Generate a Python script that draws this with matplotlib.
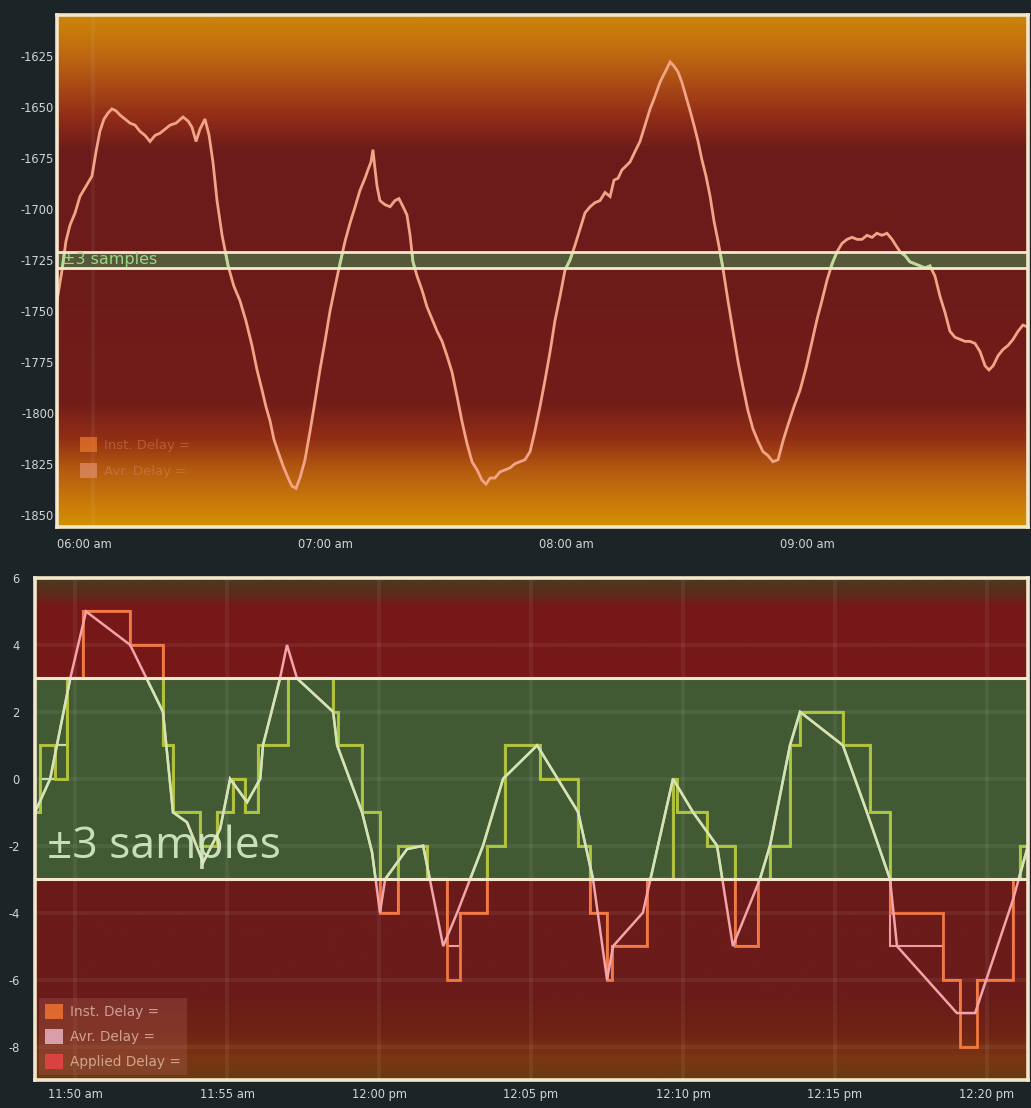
import numpy as np
import matplotlib
matplotlib.use("Agg")
import matplotlib.pyplot as plt
from matplotlib.colors import LinearSegmentedColormap
from matplotlib.patches import Rectangle, Patch
from matplotlib.transforms import blended_transform_factory

plt.rcParams["axes.unicode_minus"] = False
plt.rcParams["font.family"] = ["DejaVu Sans"]

# ---------------- upper panel: delay over the morning ----------------
trace_hours = [0.000, 0.021, 0.037, 0.054, 0.075, 0.095, 0.120, 0.145, 0.162, 0.178,
               0.195, 0.212, 0.228, 0.245, 0.261, 0.282, 0.303, 0.324, 0.344, 0.365,
               0.386, 0.407, 0.427, 0.448, 0.469, 0.494, 0.523, 0.544, 0.560, 0.577,
               0.593, 0.614, 0.631, 0.647, 0.664, 0.685, 0.710, 0.734, 0.759, 0.784,
               0.809, 0.830, 0.851, 0.867, 0.884, 0.900, 0.917, 0.938, 0.959, 0.975,
               0.992, 1.008, 1.029, 1.050, 1.071, 1.091, 1.112, 1.133, 1.154, 1.174,
               1.195, 1.216, 1.237, 1.257, 1.278, 1.290, 1.303, 1.311, 1.320, 1.328,
               1.340, 1.361, 1.382, 1.402, 1.419, 1.436, 1.452, 1.465, 1.477, 1.494,
               1.515, 1.535, 1.556, 1.577, 1.598, 1.618, 1.639, 1.660, 1.680, 1.701,
               1.722, 1.743, 1.763, 1.780, 1.797, 1.817, 1.838, 1.859, 1.880, 1.900,
               1.921, 1.942, 1.963, 1.983, 2.004, 2.025, 2.046, 2.066, 2.087, 2.108,
               2.129, 2.149, 2.170, 2.191, 2.212, 2.232, 2.253, 2.274, 2.295, 2.311,
               2.328, 2.344, 2.361, 2.378, 2.398, 2.419, 2.440, 2.461, 2.481, 2.502,
               2.523, 2.544, 2.560, 2.577, 2.593, 2.610, 2.627, 2.643, 2.660, 2.676,
               2.693, 2.710, 2.726, 2.743, 2.763, 2.784, 2.805, 2.826, 2.846, 2.867,
               2.888, 2.909, 2.929, 2.950, 2.971, 2.992, 3.012, 3.033, 3.058, 3.083,
               3.108, 3.133, 3.154, 3.174, 3.195, 3.216, 3.237, 3.257, 3.278, 3.299,
               3.320, 3.340, 3.361, 3.382, 3.402, 3.423, 3.444, 3.465, 3.481, 3.498,
               3.519, 3.539, 3.560, 3.581, 3.602, 3.622, 3.643, 3.664, 3.685, 3.705,
               3.726, 3.747, 3.768, 3.788, 3.809, 3.830, 3.851, 3.867, 3.884, 3.905,
               3.925, 3.946, 3.967, 3.988, 4.008, 4.029]
trace_delay = [-1745, -1730, -1716, -1708, -1702, -1694, -1689, -1684, -1672, -1662,
               -1656, -1653, -1651, -1652, -1654, -1656, -1658, -1659, -1662, -1664,
               -1667, -1664, -1663, -1661, -1659, -1658, -1655, -1657, -1660, -1667,
               -1661, -1656, -1664, -1677, -1696, -1713, -1728, -1738, -1745, -1755,
               -1767, -1779, -1789, -1797, -1804, -1813, -1819, -1826, -1832, -1836,
               -1837, -1832, -1823, -1809, -1794, -1779, -1765, -1750, -1738, -1727,
               -1716, -1707, -1699, -1691, -1685, -1681, -1677, -1671, -1681, -1689,
               -1696, -1698, -1699, -1696, -1695, -1699, -1703, -1713, -1726, -1733,
               -1740, -1748, -1754, -1760, -1765, -1772, -1780, -1792, -1804, -1815,
               -1824, -1828, -1833, -1835, -1832, -1832, -1829, -1828, -1827, -1825,
               -1824, -1823, -1819, -1809, -1797, -1784, -1770, -1755, -1743, -1730,
               -1725, -1718, -1710, -1702, -1699, -1697, -1696, -1692, -1694, -1686,
               -1685, -1681, -1679, -1677, -1672, -1667, -1659, -1651, -1645, -1638,
               -1633, -1628, -1630, -1633, -1638, -1645, -1652, -1659, -1667, -1676,
               -1684, -1694, -1706, -1716, -1729, -1745, -1760, -1775, -1787, -1799,
               -1808, -1814, -1819, -1821, -1824, -1823, -1814, -1806, -1797, -1789,
               -1778, -1765, -1754, -1745, -1735, -1727, -1721, -1717, -1715, -1714,
               -1715, -1715, -1713, -1714, -1712, -1713, -1712, -1715, -1718, -1721,
               -1723, -1726, -1727, -1728, -1729, -1728, -1733, -1743, -1751, -1760,
               -1763, -1764, -1765, -1765, -1766, -1770, -1777, -1779, -1777, -1772,
               -1769, -1767, -1764, -1760, -1757, -1758]
trace_ticks = [0, 1, 2, 3]
trace_ticklabels = ["06:00 am", "07:00 am", "08:00 am", "09:00 am"]
trace_yticks = [-1625, -1650, -1675, -1700, -1725, -1750, -1775, -1800, -1825, -1850]
trace_band = (-1729, -1721)

# ---------------- lower panel: zoom on 11:50 - 12:21 ----------------
zoom_ticks = [0, 5, 10, 15, 20, 25, 30]
zoom_ticklabels = ["11:50 am", "11:55 am", "12:00 pm", "12:05 pm",
                   "12:10 pm", "12:15 pm", "12:20 pm"]
zoom_yticks = [6, 4, 2, 0, -2, -4, -6, -8]
tolerance = 3

inst_minutes = [-1.32, -1.15, -0.66, -0.26, 0.26, 1.81, 2.89, 3.22, 4.11, 4.67,
                5.20, 5.59, 6.02, 7.01, 8.49, 8.65, 9.44, 10.03, 10.63, 11.58,
                12.24, 12.66, 13.55, 14.14, 15.30, 16.55, 16.94, 17.50, 17.66, 18.82,
                19.67, 19.80, 20.79, 21.71, 22.47, 22.86, 23.52, 23.85, 25.26, 26.15,
                26.81, 28.55, 29.11, 29.67, 30.86, 31.09, 31.35]
inst_delay = [-1, 1, 0, 3, 5, 4, 1, -1, -2, -1,
              0, -1, 1, 3, 2, 1, -1, -4, -2, -3,
              -6, -4, -2, 1, 0, -2, -4, -6, -5, -3,
              0, -1, -2, -5, -3, -2, 1, 2, 1, -1,
              -4, -6, -8, -6, -3, -2, -2]
applied_delay = [-1, 0, 1, 3, 5, 4, 1, -1, -2, -1,
                 0, -1, 1, 3, 2, 1, -1, -4, -2, -3,
                 -5, -4, -2, 1, 0, -2, -4, -6, -5, -3,
                 0, -1, -2, -5, -3, -2, 1, 2, 1, -1,
                 -5, -6, -7, -6, -3, -2, -2]
avr_minutes = [-1.32, -0.82, -0.16, 0.36, 1.81, 2.89, 3.22, 3.68, 4.21, 4.77,
               5.10, 5.66, 6.09, 6.18, 6.74, 6.97, 7.30, 8.49, 8.62, 9.44,
               9.77, 10.03, 10.20, 10.92, 11.45, 12.11, 12.57, 13.42, 14.08, 15.20,
               16.55, 17.04, 17.50, 17.70, 18.68, 19.67, 20.33, 21.12, 21.64, 22.53,
               22.86, 23.52, 23.85, 25.26, 26.05, 26.81, 27.04, 29.01, 29.61, 30.86,
               31.35]
avr_delay = [-1, 0, 3, 5, 4, 2, -1, -1.3, -2.5, -1.5,
             0, -0.7, 0, 1, 3, 4, 3, 2, 1, -1,
             -2.2, -4, -3, -2.1, -2, -5, -4, -2, 0, 1,
             -1, -3, -6, -5, -4, 0, -1, -2, -5, -3,
             -2, 1, 2, 1, -1, -3, -5, -7, -7, -3.6,
             -2]

# ---------------- styling ----------------
FIG_BG = "#1d2427"
FRAME = "#f3e8cc"
TICK_TXT = "#d4d4d4"

fig = plt.figure(figsize=(10.31, 11.08), dpi=100, facecolor=FIG_BG)
ax_top = fig.add_axes([57 / 1031, 1 - 527 / 1108, 971 / 1031, 512 / 1108])
ax_bot = fig.add_axes([35 / 1031, 1 - 1080 / 1108, 993 / 1031, 502 / 1108])


def vertical_gradient(ax, stops):
    cmap = LinearSegmentedColormap.from_list("bg", stops)
    grad = np.linspace(0, 1, 600).reshape(-1, 1)
    ax.imshow(grad, cmap=cmap, aspect="auto", origin="lower",
              extent=(0, 1, 0, 1), transform=ax.transAxes, zorder=0,
              interpolation="bilinear")


def banded_line(ax, x, y, lo, hi, out_color, in_color, lw, drawstyle="default", z=3):
    ax.plot(x, y, color=out_color, lw=lw, drawstyle=drawstyle, zorder=z,
            solid_joinstyle="miter")
    ln, = ax.plot(x, y, color=in_color, lw=lw, drawstyle=drawstyle, zorder=z + 0.1,
                  solid_joinstyle="miter")
    clip = Rectangle((0, lo), 1, hi - lo,
                     transform=blended_transform_factory(ax.transAxes, ax.transData))
    ln.set_clip_path(clip)


def frame(ax):
    for sp in ax.spines.values():
        sp.set_color(FRAME)
        sp.set_linewidth(2.6)
        sp.set_zorder(10)
    ax.tick_params(length=0, colors=TICK_TXT, labelsize=8.3)


# ---- upper panel ----
ax = ax_top
ax.set_facecolor("#6d1c1a")
vertical_gradient(ax, [(0.00, "#d49000"), (0.05, "#c8780a"), (0.11, "#b45a10"),
                       (0.17, "#922f14"), (0.24, "#731d19"), (0.50, "#6c1b1a"),
                       (0.74, "#6e1c1a"), (0.80, "#902c18"), (0.86, "#a84816"),
                       (0.92, "#bd6612"), (0.97, "#c87a0a"), (1.00, "#cc840a")])
ax.axvline(0.15, color="white", lw=3, alpha=0.05, zorder=1)
ax.axhspan(trace_band[0], trace_band[1], color="#55593a", zorder=1)
for yb in trace_band:
    ax.axhline(yb, color=FRAME, lw=2.0, zorder=4)
banded_line(ax, trace_hours, trace_delay, trace_band[0], trace_band[1],
            "#f3a487", "#b9dd9a", lw=2.0)
ax.text(0.02, (trace_band[0] + trace_band[1]) / 2, "\u00b13 samples", color="#9fd487",
        fontsize=11.5, va="center", ha="left", zorder=5)
ax.set_xlim(0, 4.029)
ax.set_ylim(-1856, -1605)
ax.set_xticks(trace_ticks)
ax.set_xticklabels(trace_ticklabels)
for lbl in ax.get_xticklabels():
    lbl.set_ha("left")
ax.set_yticks(trace_yticks)
frame(ax)
ax.tick_params(axis="y", pad=2)
ax.tick_params(axis="x", pad=8)
leg_top = ax.legend(handles=[Patch(facecolor="#ec7a2e", label="Inst. Delay = "),
                             Patch(facecolor="#e0906e", label="Avr. Delay = ")],
                    loc="lower left", bbox_to_anchor=(0.018, 0.085), borderaxespad=0,
                    frameon=False, fontsize=9.5, handlelength=1.3, handleheight=1.4,
                    labelspacing=0.85, handletextpad=0.5)
for t in leg_top.get_texts():
    t.set_color("#e0926e")
    t.set_alpha(0.4)
for h in leg_top.legend_handles:
    h.set_alpha(0.7)
leg_top.set_zorder(6)

# ---- lower panel ----
ax = ax_bot
ax.set_facecolor("#6d1b1a")
vertical_gradient(ax, [(0.00, "#6a3a14"), (0.04, "#7a3612"), (0.09, "#702414"),
                       (0.16, "#6a1c1a"), (0.50, "#6c1a1a"), (0.84, "#771818"),
                       (0.945, "#771818"), (0.97, "#5e2a1a"), (1.00, "#4a3a20")])
ax.axhspan(-tolerance, tolerance, color="#425a34", zorder=1)
for yv in zoom_yticks:
    ax.axhline(yv, color="white", lw=3, alpha=0.06, zorder=1.5)
for xv in zoom_ticks:
    ax.axvline(xv, color="white", lw=3, alpha=0.06, zorder=1.5)

banded_line(ax, inst_minutes, applied_delay, -tolerance, tolerance,
            "#f19aa2", "#c6e3a6", lw=1.5, drawstyle="steps-post", z=3)
banded_line(ax, inst_minutes, inst_delay, -tolerance, tolerance,
            "#f2783f", "#a9c83a", lw=2.0, drawstyle="steps-post", z=3.3)
banded_line(ax, avr_minutes, avr_delay, -tolerance, tolerance,
            "#f3a3aa", "#cfe8b2", lw=1.8, z=3.6)
for yv in (-tolerance, tolerance):
    ax.axhline(yv, color=FRAME, lw=2.2, zorder=4)

ax.text(-0.92, -2.36, "\u00b13 samples", color="#d8ecc8", alpha=0.9,
        fontsize=32, family=["Open Sans", "DejaVu Sans"], va="baseline", ha="left",
        zorder=5)

ax.set_xlim(-1.32, 31.35)
ax.set_ylim(-9, 6)
ax.set_xticks(zoom_ticks)
ax.set_xticklabels(zoom_ticklabels)
ax.set_yticks(zoom_yticks)
frame(ax)
ax.tick_params(axis="y", pad=11)
ax.tick_params(axis="x", pad=6)

leg_bot = ax.legend(handles=[Patch(facecolor="#f07432", label="Inst. Delay ="),
                             Patch(facecolor="#e8b2c0", label="Avr. Delay ="),
                             Patch(facecolor="#e84444", label="Applied Delay =")],
                    loc="lower left", bbox_to_anchor=(0.004, 0.01), borderaxespad=0,
                    fontsize=9.8, handlelength=1.3, handleheight=1.3, labelspacing=0.72,
                    handletextpad=0.5, fancybox=False, borderpad=0.45)
fr = leg_bot.get_frame()
fr.set_facecolor("#a55a50")
fr.set_alpha(0.35)
fr.set_edgecolor("none")
for t in leg_bot.get_texts():
    t.set_color("#e8c4b4")
    t.set_alpha(0.75)
for h in leg_bot.legend_handles:
    h.set_alpha(0.85)
leg_bot.set_zorder(6)

fig.savefig("out.png", dpi=100, facecolor=FIG_BG)
